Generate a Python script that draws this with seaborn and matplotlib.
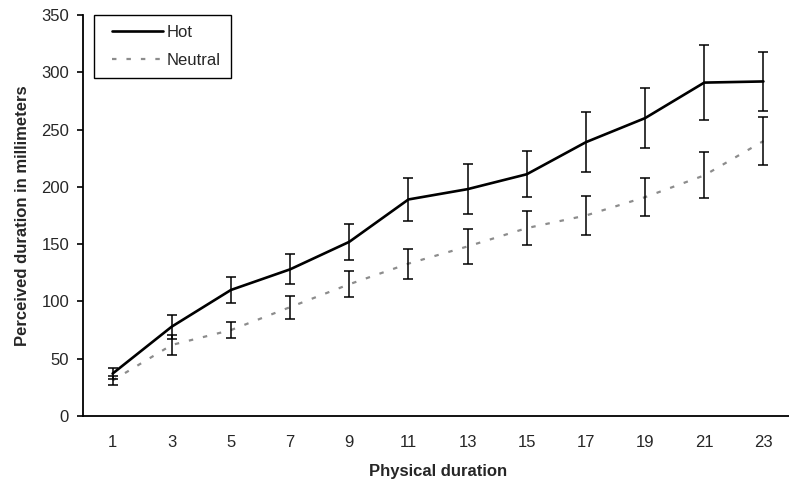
import numpy as np
import pandas as pd
import matplotlib
matplotlib.use('Agg')
import matplotlib.pyplot as plt
from matplotlib.legend_handler import HandlerLine2D
import seaborn as sns

# physical durations (categories) and perceived durations
durations = ['1', '3', '5', '7', '9', '11', '13', '15', '17', '19', '21', '23']
hot = [37, 78, 110, 128, 152, 189, 198, 211, 239, 260, 291, 292]
hot_err = [5, 10.5, 11, 13, 16, 18.5, 22, 20, 26, 26, 33, 25.5]
neutral = [31, 62, 75, 95, 115, 133, 148, 164, 175, 191, 210, 240]
neutral_err = [4, 9, 7, 10, 11.5, 13, 15.5, 15, 17, 16.5, 20, 21]
y_ticks = [0, 50, 100, 150, 200, 250, 300, 350]

sns.set_style('white')
plt.rcParams['font.family'] = ['Liberation Sans', 'DejaVu Sans']

df = pd.DataFrame({'pos': np.arange(len(durations)), 'Hot': hot, 'Neutral': neutral})

fig = plt.figure(figsize=(7.89, 4.86), dpi=100)
ax = fig.add_axes([83/789, 70/486, 710/789, 401/486])

sns.lineplot(x='pos', y='Hot', data=df, ax=ax, color='black', linewidth=1.9, label='Hot')
sns.lineplot(x='pos', y='Neutral', data=df, ax=ax, color='#8c8c8c', linewidth=1.6,
             linestyle=(0, (2, 4.5)), label='Neutral')
ax.errorbar(df['pos'], hot, yerr=hot_err, fmt='none', ecolor='black', elinewidth=1.1,
            capsize=3.6, capthick=1.1)
ax.errorbar(df['pos'], neutral, yerr=neutral_err, fmt='none', ecolor='black', elinewidth=1.1,
            capsize=3.6, capthick=1.1)

ax.set_xlim(-0.5, len(durations) - 0.5)
ax.set_ylim(0, 350)
ax.set_yticks(y_ticks)
ax.set_xticks(np.arange(len(durations)))
ax.set_xticklabels(durations)
ax.set_xticks(np.arange(len(durations) + 1) - 0.5, minor=True)
ax.tick_params(axis='x', which='major', length=0, pad=14, labelsize=12)
ax.tick_params(axis='x', which='minor', length=5, width=1.2, direction='out', color='black')
ax.tick_params(axis='y', length=4, width=1.2, direction='out', color='black', pad=6, labelsize=12)
ax.tick_params(left=True, bottom=True)

sns.despine(ax=ax)
for s in ['left', 'bottom']:
    ax.spines[s].set_color('black')
    ax.spines[s].set_linewidth(1.3)

ax.set_xlabel('Physical duration', fontsize=12, fontweight='bold', labelpad=10)
ax.set_ylabel('Perceived duration in millimeters', fontsize=12, fontweight='bold', labelpad=8)

# excel style legend: handle sits a bit in from the frame
leg = ax.legend(loc='upper left', bbox_to_anchor=(11/710, 1.0), borderaxespad=0,
                fontsize=12, handlelength=3.53, handletextpad=0.24, labelspacing=0.8,
                borderpad=0.6, fancybox=False, framealpha=1, edgecolor='black',
                handler_map={plt.Line2D: HandlerLine2D(xpad=0.48)})
leg.get_frame().set_linewidth(1.0)

fig.savefig('out.png', dpi=100)
